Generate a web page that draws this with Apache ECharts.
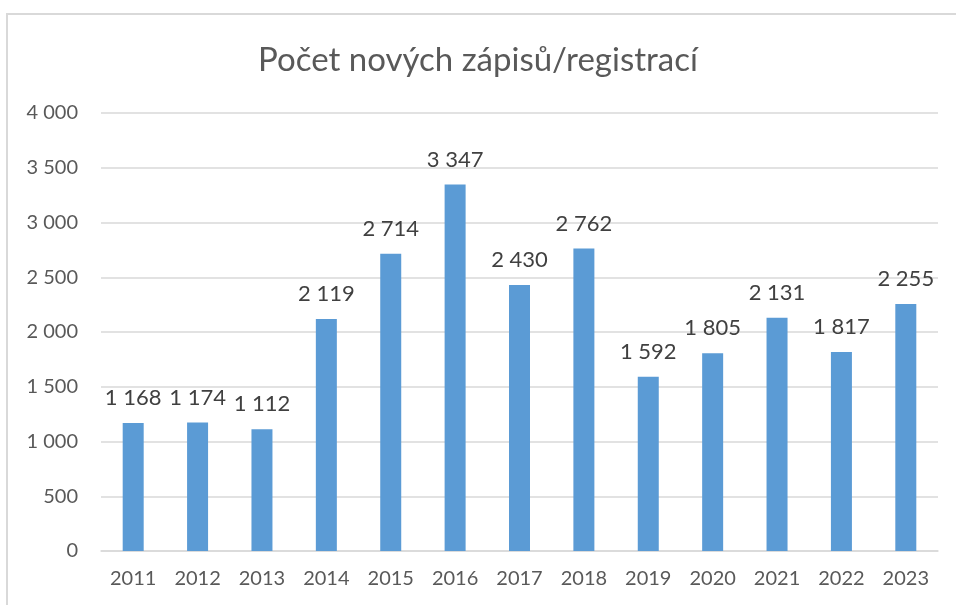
<!DOCTYPE html>
<html>
<head>
<meta charset="utf-8">
<script src="https://cdn.jsdelivr.net/npm/echarts@6/dist/echarts.min.js"></script>
<style>html,body{margin:0;padding:0;background:#fff}#c{width:956px;height:605px}</style>
</head>
<body>
<div id="c"></div>
<script>
const title = 'Počet nových zápisů/registrací';
const years = ['2011','2012','2013','2014','2015','2016','2017','2018','2019','2020','2021','2022','2023'];
const values = [1168,1174,1112,2119,2714,3347,2430,2762,1592,1805,2131,1817,2255];
const yMin = 0, yMax = 4000, yStep = 500;

function fmt(v){ return String(v).replace(/\B(?=(\d{3})+(?!\d))/g, ' '); }
const FONT = 'Lato, "Open Sans", sans-serif';

const chart = echarts.init(document.getElementById('c'));
chart.setOption({
  animation: false,
  backgroundColor: '#fff',
  graphic: [{
    type: 'rect', shape: {x: 7, y: 14, width: 1200, height: 1200},
    style: {fill: 'none', stroke: '#d9d9d9', lineWidth: 2}, silent: true
  }],
  title: {
    text: title, left: 'center', top: 39,
    textStyle: {fontFamily: FONT, fontSize: 33, fontWeight: 'normal', color: '#595959'}
  },
  grid: {left: 101, right: 18, top: 113, bottom: 54, containLabel: false},
  xAxis: {
    type: 'category', data: years,
    axisLine: {lineStyle: {color: '#d9d9d9', width: 1.5}},
    axisTick: {show: false},
    axisLabel: {fontFamily: FONT, fontSize: 20, color: '#595959', margin: 18}
  },
  yAxis: {
    type: 'value', min: yMin, max: yMax, interval: yStep,
    axisLine: {show: false}, axisTick: {show: false},
    splitLine: {lineStyle: {color: '#d9d9d9', width: 1.5}},
    axisLabel: {fontFamily: FONT, fontSize: 20, color: '#595959', margin: 23, formatter: v => fmt(v)}
  },
  series: [{
    type: 'bar', data: values, barWidth: 21,
    itemStyle: {color: '#5b9bd5'},
    label: {show: true, position: 'top', distance: 14, fontFamily: FONT, fontSize: 22, color: '#404040',
      formatter: p => fmt(p.value)}
  }]
});
</script>
</body>
</html>
